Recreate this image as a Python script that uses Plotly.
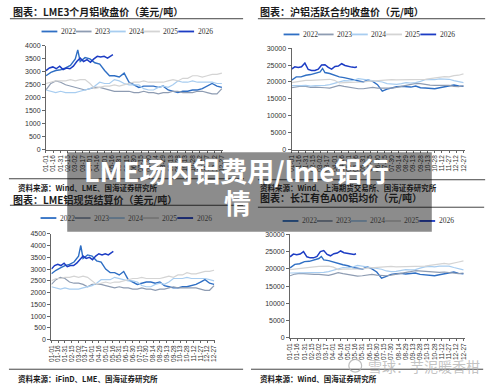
import plotly.graph_objects as go

W, H = 500, 384
def PX(x): return x / W
def PY(y): return 1 - y / H

years = ["2022", "2023", "2024", "2025", "2026"]
colors = ["#2f6fc4", "#8e9cb2", "#a8cdf0", "#d4d4d4", "#1c3cc4"]
widths = [1.4, 1.2, 1.2, 1.2, 1.5]

grid = ["01-01", "01-11", "01-21", "01-31", "02-10", "02-20", "03-02", "03-12", "03-22",
        "04-01", "04-11", "04-21", "05-01", "05-11", "05-21", "05-31", "06-10", "06-20",
        "06-30", "07-10", "07-20", "07-30", "08-09", "08-19", "08-29", "09-08", "09-18",
        "09-28", "10-08", "10-18", "10-28", "11-07", "11-17", "11-27", "12-07", "12-17", "12-27"]
grid_2022 = grid[:7] + ["03-07"] + grid[7:]
grid_2026 = ["01-01", "01-08", "01-15", "01-22", "01-29", "02-05", "02-12", "02-19", "02-26",
             "03-05", "03-12", "03-19", "03-26", "04-02", "04-09", "04-16", "04-23", "04-30",
             "05-07", "05-14", "05-18"]
tick_labels = ["01-01", "01-16", "01-31", "02-15", "03-02", "03-17", "04-01", "04-16", "05-01",
               "05-16", "05-31", "06-15", "06-30", "07-15", "07-30", "08-14", "08-29", "09-13",
               "09-28", "10-13", "10-28", "11-12", "11-27", "12-12", "12-27"]

# Panel 1: LME 3-month aluminium close (USD/t)
p1_2022 = [2850, 2980, 3050, 3080, 3150, 3250, 3500, 3850, 3400, 3550, 3500, 3350, 3300, 3050, 2850, 2850, 2800, 2950, 2600, 2500, 2400, 2450, 2450, 2450, 2400, 2450, 2300, 2250, 2200, 2250, 2250, 2300, 2300, 2350, 2450, 2550, 2450, 2400]
p1_2023 = [2300, 2550, 2650, 2600, 2500, 2450, 2400, 2350, 2300, 2350, 2400, 2400, 2350, 2300, 2250, 2250, 2250, 2250, 2200, 2200, 2250, 2200, 2200, 2150, 2200, 2200, 2250, 2250, 2200, 2200, 2200, 2250, 2250, 2200, 2150, 2150, 2350]
p1_2024 = [2300, 2250, 2200, 2250, 2200, 2200, 2200, 2250, 2300, 2350, 2450, 2600, 2550, 2550, 2700, 2650, 2550, 2500, 2500, 2500, 2350, 2300, 2300, 2400, 2450, 2400, 2500, 2650, 2600, 2600, 2650, 2600, 2600, 2600, 2600, 2550, 2550]
p1_2025 = [2550, 2600, 2650, 2650, 2650, 2700, 2650, 2700, 2700, 2550, 2350, 2400, 2450, 2450, 2500, 2450, 2500, 2550, 2600, 2600, 2650, 2600, 2600, 2600, 2600, 2650, 2700, 2650, 2750, 2750, 2850, 2850, 2800, 2850, 2900, 2900, 2950]
p1_2026 = [3050, 3150, 3190, 3120, 3220, 3090, 3150, 3120, 3220, 3400, 3530, 3400, 3470, 3370, 3500, 3600, 3570, 3600, 3530, 3600, 3660]

# Panel 2: SHFE active aluminium contract close (CNY/t)
p2_2022 = [20500, 21500, 21500, 22000, 22200, 22500, 23000, 24000, 22800, 22500, 22000, 21500, 21300, 21000, 20500, 20300, 20000, 20600, 20200, 19200, 17300, 17900, 18300, 18600, 18700, 18500, 18500, 18800, 18300, 18200, 18200, 18000, 18300, 18600, 19000, 19100, 18800, 18700]
p2_2023 = [18300, 18600, 18800, 18700, 18400, 18500, 18500, 18300, 18200, 18600, 19000, 18700, 18400, 18200, 18000, 18000, 18200, 18400, 18200, 18200, 18000, 18200, 18400, 18700, 18800, 19200, 19600, 19500, 19200, 19100, 19000, 19000, 19100, 19000, 18700, 18600, 18900]
p2_2024 = [18900, 18800, 18900, 19000, 18800, 18900, 18900, 19000, 19200, 19600, 20000, 20400, 20300, 20500, 21000, 20800, 20600, 20400, 20200, 20000, 19500, 19300, 19300, 19500, 19800, 19700, 19800, 20200, 20700, 20800, 20700, 20900, 20900, 20800, 20400, 20000, 19800]
p2_2025 = [19800, 20100, 20300, 20500, 20500, 20600, 20700, 20800, 20800, 20500, 19700, 19800, 19800, 19900, 20000, 20000, 20200, 20300, 20500, 20600, 20600, 20700, 20600, 20600, 20600, 20700, 20800, 20800, 20800, 21000, 21200, 21500, 21600, 21500, 21900, 22000, 22400]
p2_2026 = [23800, 24500, 24300, 24500, 25600, 23700, 23400, 23400, 23800, 25000, 25100, 24300, 23800, 24600, 24700, 25400, 24900, 24600, 24400, 24300, 24500]

# Panel 3: LME spot settlement (USD/t)
p3_2022 = [2800, 2950, 3050, 3150, 3200, 3300, 3550, 4000, 3450, 3600, 3550, 3350, 3300, 3000, 2850, 2850, 2750, 2900, 2550, 2450, 2350, 2400, 2450, 2450, 2400, 2450, 2300, 2250, 2200, 2200, 2250, 2250, 2300, 2350, 2450, 2550, 2400, 2350]
p3_2023 = [2350, 2550, 2650, 2600, 2450, 2400, 2400, 2350, 2250, 2350, 2350, 2350, 2300, 2250, 2200, 2250, 2200, 2200, 2150, 2150, 2200, 2150, 2150, 2100, 2150, 2150, 2200, 2250, 2200, 2200, 2200, 2200, 2200, 2150, 2100, 2100, 2300]
p3_2024 = [2250, 2200, 2150, 2200, 2150, 2150, 2150, 2200, 2250, 2300, 2400, 2550, 2550, 2550, 2650, 2600, 2550, 2500, 2500, 2450, 2300, 2250, 2250, 2350, 2400, 2350, 2450, 2600, 2600, 2600, 2650, 2600, 2600, 2600, 2600, 2550, 2500]
p3_2025 = [2500, 2600, 2600, 2650, 2650, 2700, 2650, 2700, 2650, 2500, 2350, 2400, 2450, 2400, 2450, 2450, 2500, 2550, 2600, 2600, 2650, 2600, 2600, 2600, 2600, 2650, 2700, 2650, 2750, 2750, 2850, 2800, 2800, 2850, 2900, 2900, 2950]
p3_2026 = [3000, 3150, 3200, 3150, 3250, 3100, 3150, 3150, 3250, 3400, 3550, 3450, 3500, 3400, 3550, 3650, 3600, 3650, 3600, 3700, 3750]

# Panel 4: Changjiang A00 aluminium average (CNY/t)
p4_2022 = [20300, 21300, 21500, 22100, 22200, 22600, 23000, 23600, 22600, 22400, 22000, 21400, 21200, 20900, 20400, 20200, 19900, 20600, 20000, 19100, 17300, 17800, 18400, 18600, 18700, 18500, 18600, 18800, 18400, 18300, 18300, 18000, 18300, 18600, 19000, 19100, 18700, 18600]
p4_2023 = [18000, 18500, 18700, 18600, 18300, 18400, 18400, 18200, 18100, 18500, 18900, 18600, 18300, 18100, 17900, 18000, 18200, 18400, 18200, 18100, 18000, 18200, 18400, 18700, 18800, 19200, 19500, 19400, 19200, 19100, 19000, 19000, 19100, 19000, 18700, 18600, 18800]
p4_2024 = [18800, 18800, 18900, 19000, 18800, 18900, 18900, 19000, 19200, 19600, 20000, 20400, 20300, 20500, 21000, 20800, 20600, 20400, 20200, 19900, 19400, 19200, 19300, 19500, 19800, 19700, 19800, 20200, 20600, 20700, 20600, 20800, 20900, 20800, 20400, 20000, 19700]
p4_2025 = [19800, 20000, 20200, 20400, 20500, 20600, 20700, 20800, 20800, 20500, 19800, 19900, 19900, 20000, 20100, 20000, 20200, 20300, 20500, 20600, 20600, 20700, 20600, 20600, 20600, 20700, 20800, 20800, 20800, 21000, 21200, 21500, 21600, 21400, 21800, 22000, 22300]
p4_2026 = [23500, 24300, 24100, 24300, 25000, 23500, 23200, 23200, 23600, 25000, 25300, 24200, 23800, 24400, 24600, 25200, 24700, 24500, 24300, 24200, 24400]

titles = ["图表：LME3个月铝收盘价（美元/吨）", "图表：沪铝活跃合约收盘价（元/吨）",
          "图表：LME铝现货结算价（美元/吨）", "图表：长江有色A00铝均价（元/吨）"]
sources = ["资料来源：Wind、LME、国海证券研究所", "资料来源：Wind、上海期货交易所、国海证券研究所",
           "资料来源：iFinD、LME、国海证券研究所", "资料来源：Wind、国海证券研究所"]
series = [[p1_2022, p1_2023, p1_2024, p1_2025, p1_2026],
          [p2_2022, p2_2023, p2_2024, p2_2025, p2_2026],
          [p3_2022, p3_2023, p3_2024, p3_2025, p3_2026],
          [p4_2022, p4_2023, p4_2024, p4_2025, p4_2026]]
ymax = [4000, 30000, 4500, 30000]
ydtick = [500, 5000, 500, 5000]

# layout geometry (pixels)
geo = [
    dict(xd=(42.5, 222), yd=(148.3, 42.7), tx=7, ty=8, rule=(6, 242, 15), lx=38, ly=28,
         srule=(5, 243, 178), sx=12, sy=187),
    dict(xd=(291, 466.5), yd=(148.3, 45), tx=257, ty=8, rule=(257, 487, 15), lx=283, ly=31,
         srule=(257, 487, 179), sx=257, sy=187),
    dict(xd=(48, 214), yd=(342, 234), tx=7, ty=199, rule=(6, 242, 205), lx=37, ly=218,
         srule=(5, 242, 372), sx=12, sy=381),
    dict(xd=(289.5, 466.5), yd=(340, 234.7), tx=257, ty=197, rule=(257, 486, 207), lx=282, ly=221,
         srule=(250, 485, 372), sx=257, sy=381),
]

def xs(lst):
    return ["2021-" + d for d in lst]

fig = go.Figure()
shapes = []
annotations = []
CJK = "Noto Sans CJK SC"

for i in range(4):
    g = geo[i]
    ax = "" if i == 0 else str(i + 1)
    for k, yr in enumerate(years):
        vals = series[i][k]
        dates = grid_2022 if k == 0 else (grid_2026 if k == 4 else grid)
        assert len(vals) == len(dates), (i, k, len(vals), len(dates))
        fig.add_trace(go.Scatter(x=xs(dates), y=vals, mode="lines", name=yr,
                                 line=dict(color=colors[k], width=widths[k]),
                                 xaxis="x" + ax, yaxis="y" + ax, showlegend=False))
    fig.layout["xaxis" + ax] = dict(
        domain=[PX(g["xd"][0]), PX(g["xd"][1])], anchor="y" + ax, type="date",
        range=["2021-01-01", "2021-12-30"], tickvals=xs(tick_labels), ticktext=tick_labels,
        tickangle=-90, tickfont=dict(family="Liberation Sans", size=6.5, color="#333"),
        showline=True, linecolor="#666", linewidth=1, ticks="outside", ticklen=2,
        tickcolor="#666", showgrid=False, zeroline=False)
    fig.layout["yaxis" + ax] = dict(
        domain=[PY(g["yd"][0]), PY(g["yd"][1])], anchor="x" + ax,
        range=[0, ymax[i]], tick0=0, dtick=ydtick[i], tickformat="d",
        tickfont=dict(family="Liberation Sans", size=7, color="#333"),
        showline=True, linecolor="#666", linewidth=1, ticks="outside", ticklen=3,
        tickcolor="#666", showgrid=False, zeroline=False)
    # title
    annotations.append(dict(x=PX(g["tx"]), y=PY(g["ty"]), xref="paper", yref="paper",
                            text=titles[i], showarrow=False, xanchor="left", yanchor="middle",
                            font=dict(family=CJK, size=10, color="#1a1a1a", weight="bold")))
    r = g["rule"]
    shapes.append(dict(type="line", xref="paper", yref="paper", x0=PX(r[0]), x1=PX(r[1]),
                       y0=PY(r[2]), y1=PY(r[2]), line=dict(color="#444", width=1)))
    # legend
    for k, yr in enumerate(years):
        x0 = g["lx"] + k * 34.6
        shapes.append(dict(type="line", xref="paper", yref="paper", x0=PX(x0), x1=PX(x0 + 16),
                           y0=PY(g["ly"]), y1=PY(g["ly"]), line=dict(color=colors[k], width=1.8)))
        annotations.append(dict(x=PX(x0 + 17.5), y=PY(g["ly"]), xref="paper", yref="paper",
                                text=yr, showarrow=False, xanchor="left", yanchor="middle",
                                font=dict(family="Liberation Serif", size=7.5, color="#333")))
    # source
    s = g["srule"]
    shapes.append(dict(type="line", xref="paper", yref="paper", x0=PX(s[0]), x1=PX(s[1]),
                       y0=PY(s[2]), y1=PY(s[2]), line=dict(color="#444", width=1)))
    annotations.append(dict(x=PX(g["sx"]), y=PY(g["sy"]), xref="paper", yref="paper",
                            text=sources[i], showarrow=False, xanchor="left", yanchor="middle",
                            font=dict(family=CJK, size=7.5, color="#1a1a1a", weight="bold")))

# watermark
shapes.append(dict(type="circle", xref="paper", yref="paper", x0=PX(349), x1=PX(362),
                   y0=PY(375), y1=PY(362), line=dict(color="rgba(175,175,175,0.8)", width=1.2)))
annotations.append(dict(x=PX(366), y=PY(368.5), xref="paper", yref="paper",
                        text="雪球：芋泥暖香柑", showarrow=False, xanchor="left", yanchor="middle",
                        font=dict(family=CJK, size=14, color="rgba(175,175,175,0.75)")))

# grey overlay banner
shapes.append(dict(type="rect", xref="paper", yref="paper", x0=PX(64), x1=PX(433),
                   y0=PY(232), y1=PY(151), fillcolor="rgba(0,0,0,0.45)", line=dict(width=0),
                   layer="above"))
annotations.append(dict(x=PX(235), y=PY(170), xref="paper", yref="paper",
                        text="LME场内铝费用/lme铝行", showarrow=False, xanchor="center",
                        yanchor="middle",
                        font=dict(family=CJK, size=27, color="white", weight="bold")))
annotations.append(dict(x=PX(236), y=PY(202), xref="paper", yref="paper",
                        text="情", showarrow=False, xanchor="center", yanchor="middle",
                        font=dict(family=CJK, size=27, color="white", weight="bold")))

fig.update_layout(width=W, height=H, margin=dict(l=0, r=0, t=0, b=0),
                  paper_bgcolor="white", plot_bgcolor="white",
                  shapes=shapes, annotations=annotations, showlegend=False)
fig.write_html("out.html")
